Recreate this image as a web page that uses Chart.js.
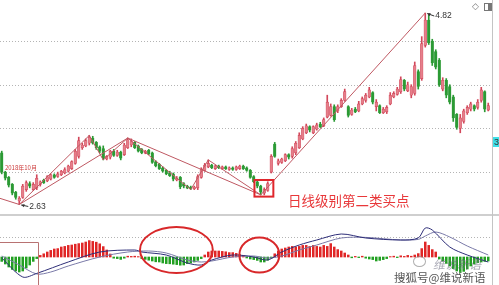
<!DOCTYPE html>
<html>
<head>
<meta charset="utf-8">
<script src="https://cdn.jsdelivr.net/npm/chart.js@4.4.1/dist/chart.umd.min.js"></script>
<style>
  html, body { margin: 0; padding: 0; background: #fff; }
  #wrap { position: relative; width: 499px; height: 285px; overflow: hidden; background: #fff; }
  canvas { position: absolute; left: 0; }
  #kline { top: 0; }
  #macd { top: 216px; }
  .rule { position: absolute; background: #c4c4c4; }
  .txt { position: absolute; white-space: nowrap; line-height: 1; }
</style>
</head>
<body>
<div id="wrap">
  <canvas id="kline" width="499" height="214"></canvas>
  <canvas id="macd" width="499" height="69"></canvas>
  <div class="rule" style="left:0;top:214px;width:499px;height:2px;background:#cfcfcf"></div>
  <div class="rule" style="left:492px;top:0;width:1px;height:285px;"></div>
  <div class="txt" style="left:472px;top:1px;font:9px 'DejaVu Sans';color:#777">◇</div>
  <div style="position:absolute;left:484px;top:3px;width:6px;height:6px;border:1px solid #777;box-sizing:content-box;">
    <div style="position:absolute;right:0;top:0;width:3px;height:6px;background:#777"></div>
  </div>
  <div class="txt" style="left:493px;top:137px;width:6px;height:10px;background:#3fe0e8;color:#333;font:9px 'Liberation Sans';padding-left:1px;overflow:hidden">3</div>
  <div style="position:absolute;left:413px;top:256px;width:11px;height:9px;border:1.5px solid rgba(140,140,140,0.7);border-radius:50%"></div>
  <div class="txt" style="left:433px;top:255px;font:italic 12px 'Noto Sans CJK SC';color:rgba(110,110,130,0.6)">维说新语</div>
  <div class="txt" style="left:394px;top:269px;font:11.5px 'Noto Sans CJK SC';color:#555;text-shadow:0 0 2px #fff">搜狐号@维说新语</div>
</div>
<script>
// Daily candles (price, yuan)
const open = [
  3.22,3.00,2.94,2.86,2.77,2.67,2.71,2.80,2.87,2.80,
  2.82,2.86,2.91,2.90,2.92,2.97,2.95,2.97,2.99,3.01,
  3.04,3.10,3.18,3.28,3.30,3.33,3.39,3.34,3.29,3.27,
  3.15,3.17,3.24,3.19,3.23,3.20,3.28,3.31,3.34,3.30,
  3.26,3.22,3.25,3.22,3.12,3.09,3.05,3.02,2.99,2.98,
  2.91,2.94,2.87,2.84,2.83,2.81,2.82,2.94,3.02,3.06,
  3.08,3.04,3.07,3.04,3.06,3.03,3.05,3.03,3.04,3.07,
  3.05,3.02,2.95,2.89,2.84,2.76,2.79,3.00,3.32,3.10,
  3.11,3.13,3.20,3.18,3.22,3.28,3.38,3.45,3.52,3.45,
  3.49,3.55,3.53,3.63,3.65,3.75,3.70,3.75,3.82,3.75,
  3.66,3.72,3.70,3.78,3.82,3.86,3.91,3.75,3.76,3.68,
  3.69,3.78,3.86,3.89,3.92,4.05,3.93,3.88,3.90,4.15,
  4.07,4.45,4.74,4.50,4.38,4.28,3.95,4.05,3.98,3.86,
  3.66,3.50,3.58,3.68,3.72,3.76,3.74,3.82,3.92,3.71
];
const high = [
  3.24,3.01,2.95,2.87,2.78,2.72,2.86,2.90,2.89,2.88,
  2.97,2.90,2.92,2.96,2.98,2.98,3.00,3.02,3.05,3.08,
  3.13,3.26,3.40,3.33,3.38,3.42,3.41,3.35,3.30,3.30,
  3.19,3.25,3.26,3.25,3.24,3.33,3.39,3.38,3.35,3.31,
  3.27,3.25,3.26,3.23,3.13,3.10,3.06,3.03,3.01,2.99,
  2.95,2.95,2.88,2.85,2.84,2.84,2.97,3.05,3.10,3.14,
  3.09,3.08,3.08,3.07,3.07,3.06,3.06,3.07,3.08,3.08,
  3.06,3.03,2.96,2.90,2.85,2.82,2.89,3.20,3.34,3.15,
  3.16,3.21,3.21,3.29,3.35,3.45,3.52,3.55,3.53,3.53,
  3.56,3.57,3.62,3.88,3.78,3.77,3.77,3.84,3.95,3.76,
  3.73,3.74,3.81,3.86,3.90,3.97,3.92,3.83,3.77,3.74,
  3.76,3.91,3.92,3.97,4.09,4.06,4.03,4.00,4.26,4.17,
  4.55,4.82,4.80,4.52,4.40,4.30,4.08,4.07,4.00,3.88,
  3.67,3.66,3.72,3.76,3.80,3.77,3.83,3.97,3.93,3.79
];
const low = [
  2.98,2.91,2.83,2.74,2.69,2.63,2.70,2.78,2.82,2.79,
  2.80,2.84,2.87,2.89,2.91,2.93,2.94,2.96,2.98,3.00,
  3.03,3.09,3.16,3.26,3.29,3.31,3.32,3.26,3.22,3.14,
  3.14,3.15,3.18,3.18,3.14,3.19,3.27,3.29,3.27,3.23,
  3.21,3.21,3.20,3.10,3.06,3.03,3.00,2.97,2.95,2.90,
  2.90,2.81,2.82,2.81,2.80,2.80,2.80,2.93,3.01,3.05,
  3.04,3.03,3.04,3.03,3.03,3.02,3.02,3.02,3.03,3.03,
  3.01,2.93,2.88,2.82,2.74,2.74,2.78,2.99,3.17,3.08,
  3.10,3.12,3.15,3.16,3.20,3.27,3.37,3.44,3.46,3.44,
  3.48,3.51,3.52,3.62,3.64,3.58,3.68,3.74,3.81,3.63,
  3.65,3.68,3.69,3.77,3.80,3.85,3.78,3.70,3.67,3.67,
  3.67,3.77,3.85,3.88,3.90,3.93,3.92,3.85,3.88,3.95,
  4.05,4.43,4.46,4.22,4.18,3.98,3.93,3.85,3.78,3.58,
  3.49,3.45,3.56,3.66,3.70,3.70,3.72,3.80,3.69,3.70
];
const close = [
  3.00,2.93,2.85,2.76,2.71,2.70,2.84,2.88,2.84,2.86,
  2.93,2.89,2.88,2.95,2.97,2.94,2.98,3.01,3.03,3.07,
  3.12,3.24,3.36,3.31,3.36,3.40,3.33,3.28,3.24,3.16,
  3.18,3.24,3.19,3.23,3.16,3.31,3.37,3.35,3.28,3.24,
  3.22,3.24,3.21,3.11,3.07,3.04,3.01,2.98,2.96,2.92,
  2.93,2.83,2.84,2.82,2.81,2.83,2.95,3.03,3.08,3.10,
  3.05,3.07,3.05,3.06,3.04,3.05,3.03,3.06,3.07,3.04,
  3.02,2.94,2.89,2.84,2.77,2.80,2.87,3.18,3.18,3.13,
  3.15,3.20,3.17,3.27,3.33,3.42,3.50,3.53,3.48,3.52,
  3.54,3.52,3.60,3.80,3.75,3.60,3.75,3.82,3.92,3.65,
  3.71,3.69,3.78,3.84,3.88,3.94,3.80,3.80,3.68,3.72,
  3.74,3.88,3.90,3.95,4.06,3.95,4.00,3.98,4.22,3.98,
  4.47,4.74,4.48,4.25,4.20,4.00,4.05,3.88,3.80,3.62,
  3.51,3.62,3.70,3.74,3.78,3.72,3.80,3.94,3.72,3.76
];

// MACD histogram, one bar per candle
const macdHist = [
  -0.022,-0.035,-0.050,-0.062,-0.070,-0.075,-0.070,-0.055,-0.040,-0.022,
  -0.008,0.008,0.016,0.025,0.033,0.040,0.042,0.050,0.053,0.058,
  0.060,0.064,0.067,0.070,0.075,0.082,0.078,0.074,0.066,0.052,
  0.035,0.015,-0.006,-0.008,-0.012,-0.006,0.004,0.003,0.004,0.002,
  -0.008,-0.012,-0.016,-0.020,-0.024,-0.025,-0.030,-0.033,-0.034,-0.036,
  -0.038,-0.041,-0.040,-0.033,-0.030,-0.025,-0.017,-0.008,0.010,0.025,
  0.030,0.030,0.030,0.028,0.026,0.022,0.022,0.018,0.012,0.008,
  -0.005,-0.010,-0.013,-0.017,-0.025,-0.025,-0.016,-0.005,0.016,0.030,
  0.040,0.045,0.050,0.053,0.050,0.053,0.058,0.058,0.053,0.058,
  0.053,0.050,0.058,0.053,0.067,0.050,0.037,0.030,0.020,0.010,
  -0.004,0.003,-0.003,0.004,-0.006,-0.010,-0.013,-0.020,-0.017,-0.013,
  -0.008,0.002,0.004,-0.003,0.006,0.003,0.008,0.004,0.010,0.017,
  0.042,0.075,0.058,0.037,0.025,-0.010,-0.020,-0.032,-0.045,-0.058,
  -0.070,-0.078,-0.072,-0.060,-0.045,-0.035,-0.028,-0.025,-0.022,-0.020
];

// DIF / DEA lines (candle index, value)
const difIdx = [0, 6, 10, 19, 28, 38, 40, 47, 53, 57, 60, 66, 72, 76, 80, 85, 90, 97, 104, 114, 119, 121, 123, 128, 133, 139];
const difVal = [-0.005,-0.100,-0.082,-0.025,0.025,0.035,0.025,0.010,-0.030,-0.040,-0.015,0.010,0.000,-0.015,0.025,0.060,0.085,0.115,0.095,0.085,0.095,0.145,0.135,0.050,0.010,-0.025];
const deaIdx = [0, 5, 10, 14, 19, 28, 36, 42, 47, 53, 57, 60, 66, 72, 76, 80, 85, 90, 97, 104, 114, 119, 121, 124, 128, 133, 139];
const deaVal = [0.005,-0.040,-0.085,-0.075,-0.045,0.000,0.025,0.030,0.020,-0.015,-0.025,-0.020,0.000,0.005,-0.005,0.005,0.035,0.060,0.095,0.098,0.085,0.088,0.105,0.125,0.100,0.055,0.010];

// Turning points: strokes and segments
const strokeIdx = [-0.5, 5, 25, 29, 36, 54, 59, 74, 121];
const strokeVal = [2.70, 2.63, 3.42, 3.14, 3.39, 2.80, 3.14, 2.74, 4.82];
const segmentIdx = [5, 36, 74];
const segmentVal = [2.63, 3.39, 2.74];

const gridLevels = [3.0, 3.5, 4.0, 4.5];
const lowLabel = '2.63';
const highLabel = '4.82';
const dateLabel = '2018年10月';
const buyLabel = '日线级别第二类买点';

const N = close.length;
const UP = '#e57f8a', UP_EDGE = '#d2475a', DOWN = '#2b9a34';
const ZIG = '#bf5862';

const isUp = i => close[i] >= open[i];
const idx = close.map((_, i) => i);
const pts = (xs, ys) => xs.map((x, k) => ({ x, y: ys[k] }));

function arrow(ctx, x1, y1, x2, y2, color) {
  ctx.strokeStyle = color; ctx.fillStyle = color; ctx.lineWidth = 1;
  ctx.beginPath(); ctx.moveTo(x1, y1); ctx.lineTo(x2, y2); ctx.stroke();
  const a = Math.atan2(y2 - y1, x2 - x1), L = 3.5;
  ctx.beginPath();
  ctx.moveTo(x2, y2);
  ctx.lineTo(x2 - L * Math.cos(a - 0.5), y2 - L * Math.sin(a - 0.5));
  ctx.lineTo(x2 - L * Math.cos(a + 0.5), y2 - L * Math.sin(a + 0.5));
  ctx.closePath(); ctx.fill();
}

const klineDecor = {
  id: 'klineDecor',
  beforeDatasetsDraw(chart) {
    const { ctx, chartArea: a, scales: { y } } = chart;
    ctx.save();
    ctx.strokeStyle = '#b4b4b4'; ctx.lineWidth = 1; ctx.setLineDash([1, 2]);
    gridLevels.forEach(v => {
      const py = Math.round(y.getPixelForValue(v)) + 0.5;
      ctx.beginPath(); ctx.moveTo(a.left, py); ctx.lineTo(a.right, py); ctx.stroke();
    });
    ctx.restore();
  },
  afterDatasetsDraw(chart) {
    const { ctx, scales: { x, y } } = chart;
    ctx.save();
    // box around the second-type buy point
    const bx1 = x.getPixelForValue(72.2), bx2 = x.getPixelForValue(77.6);
    const by1 = y.getPixelForValue(2.91), by2 = y.getPixelForValue(2.72);
    ctx.strokeStyle = '#e0262c'; ctx.lineWidth = 2;
    ctx.strokeRect(bx1, by1, bx2 - bx1, by2 - by1);

    // low / high labels
    const lx = x.getPixelForValue(5), ly = y.getPixelForValue(2.63);
    arrow(ctx, lx + 9, ly + 2, lx + 2, ly + 0.5, '#333');
    ctx.fillStyle = '#333'; ctx.font = '8.5px "Liberation Sans"';
    ctx.textBaseline = 'middle'; ctx.textAlign = 'left';
    ctx.fillText(lowLabel, lx + 10, ly + 2);

    const hx = x.getPixelForValue(121), hy = y.getPixelForValue(4.82);
    arrow(ctx, hx + 9, hy + 3, hx + 2, hy + 0.5, '#333');
    ctx.fillText(highLabel, hx + 10, hy + 3);

    // month marker
    ctx.fillStyle = '#cc3a3a'; ctx.font = '6px "Noto Sans CJK SC"';
    ctx.fillText(dateLabel, x.getPixelForValue(0.9), y.getPixelForValue(3.05));

    // buy point caption
    ctx.fillStyle = '#e8383a'; ctx.font = '13.5px "Noto Sans CJK SC"';
    ctx.fillText(buyLabel, x.getPixelForValue(81.8), y.getPixelForValue(2.675));
    ctx.restore();
  }
};

new Chart(document.getElementById('kline'), {
  type: 'bar',
  data: {
    datasets: [
      {
        type: 'line', data: pts(strokeIdx, strokeVal), borderColor: ZIG, borderWidth: 1,
        pointRadius: 0, tension: 0, fill: false, order: 0
      },
      {
        type: 'line', data: pts(segmentIdx, segmentVal), borderColor: ZIG, borderWidth: 1,
        pointRadius: 0, tension: 0, fill: false, order: 0
      },
      {
        data: idx.map(i => ({ x: i, y: [open[i], close[i]] })),
        backgroundColor: c => isUp(c.dataIndex) ? UP : DOWN,
        borderColor: c => isUp(c.dataIndex) ? UP_EDGE : DOWN,
        borderWidth: 0.6, borderSkipped: false,
        barThickness: 2.6, grouped: false, order: 1
      },
      {
        data: idx.map(i => ({ x: i, y: [low[i], high[i]] })),
        backgroundColor: c => isUp(c.dataIndex) ? UP_EDGE : DOWN,
        borderWidth: 0, barThickness: 1, grouped: false, order: 2
      }
    ]
  },
  options: {
    responsive: false, animation: false, devicePixelRatio: 1,
    layout: { padding: { left: 0, right: 9, top: 0, bottom: 0 } },
    plugins: { legend: { display: false }, tooltip: { enabled: false } },
    scales: {
      x: { type: 'linear', min: -0.5, max: N - 0.5, offset: false, display: false },
      y: { type: 'linear', min: 2.521, max: 4.969, display: false }
    }
  },
  plugins: [klineDecor]
});

const macdDecor = {
  id: 'macdDecor',
  beforeDatasetsDraw(chart) {
    const { ctx, chartArea: a, scales: { y } } = chart;
    ctx.save();
    ctx.strokeStyle = '#b4b4b4'; ctx.lineWidth = 1; ctx.setLineDash([1, 2]);
    const py = Math.round(y.getPixelForValue(0.10)) + 0.5;
    ctx.beginPath(); ctx.moveTo(a.left, py); ctx.lineTo(a.right, py); ctx.stroke();
    ctx.restore();
  },
  afterDatasetsDraw(chart) {
    const { ctx, scales: { x, y } } = chart;
    ctx.save();
    // left frame
    ctx.strokeStyle = '#b87272'; ctx.lineWidth = 1;
    const fx = Math.round(x.getPixelForValue(10.4)) + 0.5, fy = Math.round(y.getPixelForValue(0.075)) + 0.5;
    ctx.beginPath(); ctx.moveTo(0, fy); ctx.lineTo(fx, fy); ctx.lineTo(fx, chart.height); ctx.stroke();
    // highlighted areas
    ctx.strokeStyle = '#d8282a'; ctx.lineWidth = 2;
    [[49.9, 0.035, 10.4, 0.115], [73.6, 0.010, 5.7, 0.088]].forEach(([ci, cv, ri, rv]) => {
      const cx = x.getPixelForValue(ci), cy = y.getPixelForValue(cv);
      const rx = x.getPixelForValue(ci + ri) - cx, ry = y.getPixelForValue(cv - rv) - cy;
      ctx.beginPath(); ctx.ellipse(cx, cy, rx, ry, 0, 0, Math.PI * 2); ctx.stroke();
    });
    ctx.restore();
  }
};

new Chart(document.getElementById('macd'), {
  type: 'bar',
  data: {
    datasets: [
      {
        type: 'line', data: pts(difIdx, difVal), borderColor: '#2e2e78', borderWidth: 1,
        pointRadius: 0, tension: 0.3, fill: false, order: 0
      },
      {
        type: 'line', data: pts(deaIdx, deaVal), borderColor: '#7a7aa8', borderWidth: 1,
        pointRadius: 0, tension: 0.3, fill: false, order: 0
      },
      {
        data: idx.map(i => ({ x: i, y: macdHist[i] })),
        backgroundColor: c => macdHist[c.dataIndex] >= 0 ? '#e02626' : '#22a022',
        borderWidth: 0, barThickness: 1.9, grouped: false, order: 1
      }
    ]
  },
  options: {
    responsive: false, animation: false, devicePixelRatio: 1,
    layout: { padding: { left: 0, right: 9, top: 0, bottom: 0 } },
    plugins: { legend: { display: false }, tooltip: { enabled: false } },
    scales: {
      x: { type: 'linear', min: -0.5, max: N - 0.5, offset: false, display: false },
      y: { type: 'linear', min: -0.14, max: 0.205, display: false }
    }
  },
  plugins: [macdDecor]
});
</script>
</body>
</html>
